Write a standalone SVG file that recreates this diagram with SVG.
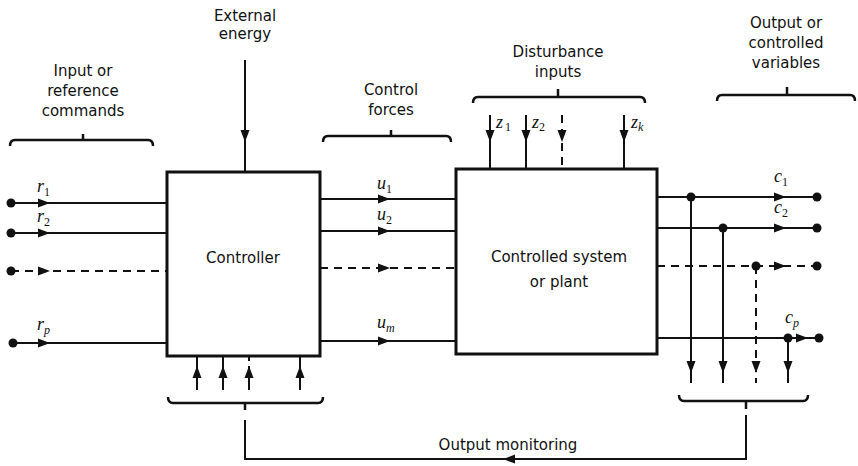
<svg xmlns="http://www.w3.org/2000/svg" width="858" height="466" viewBox="0 0 858 466">
<style>
.box{fill:#fff;stroke:#111;stroke-width:3}
.ln{fill:none;stroke:#111;stroke-width:2}
.ds{fill:none;stroke:#111;stroke-width:2;stroke-dasharray:8 6}
.br{fill:none;stroke:#111;stroke-width:2.5}
.lbl{font-family:"DejaVu Sans",sans-serif;font-size:15px;fill:#111;text-anchor:middle}
.var{font-family:"Liberation Serif",serif;font-style:italic;font-size:18px;fill:#111}
.sub{font-size:12px;font-style:normal}
.subi{font-size:12px;font-style:italic}
.dot{fill:#111}
</style>
<defs>
<path id="ah" d="M0,0 L-12,-4.5 L-12,4.5 Z" fill="#111"/>
</defs>
<rect width="858" height="466" fill="#fff"/>

<g id="labels">
<text class="lbl" x="83" y="76">Input or</text>
<text class="lbl" x="83" y="96">reference</text>
<text class="lbl" x="83" y="116">commands</text>
<text class="lbl" x="245" y="21">External</text>
<text class="lbl" x="245" y="39">energy</text>
<text class="lbl" x="391" y="95">Control</text>
<text class="lbl" x="391" y="115">forces</text>
<text class="lbl" x="558" y="57">Disturbance</text>
<text class="lbl" x="558" y="77">inputs</text>
<text class="lbl" x="786" y="28">Output or</text>
<text class="lbl" x="786" y="48">controlled</text>
<text class="lbl" x="786" y="68">variables</text>
<text class="lbl" x="508" y="450">Output monitoring</text>
</g>

<g id="braces">
<path class="br" d="M10,146 Q10,140 15,140 L148,140 Q153,140 153,146 M83,140 L83,134"/>
<path class="br" d="M323,142 Q323,136 328,136 L446,136 Q451,136 451,142 M391,136 L391,130"/>
<path class="br" d="M473,103 Q473,97 478,97 L640,97 Q645,97 645,103 M558,97 L558,89"/>
<path class="br" d="M717,101 Q717,95 722,95 L850,95 Q855,95 855,101 M787,95 L787,87"/>
<path class="br" d="M168,397 Q168,403 173,403 L318,403 Q323,403 323,397 M245,403 L245,410"/>
<path class="br" d="M679,395 Q679,401 684,401 L803,401 Q808,401 808,395 M746,401 L746,409"/>
</g>

<g id="controller">
<rect class="box" x="167" y="172" width="153" height="184"/>
<text class="lbl" x="243" y="263">Controller</text>
</g>

<g id="plant">
<rect class="box" x="456" y="169" width="201" height="185"/>
<text class="lbl" x="559" y="262">Controlled system</text>
<text class="lbl" x="559" y="287">or plant</text>
</g>

<g id="connectors">
<!-- external energy -->
<path class="ln" d="M245,60 L245,172"/>
<use href="#ah" transform="translate(245,142) rotate(90)"/>

<!-- inputs -->
<path class="ln" d="M11,203 L167,203 M11,233 L167,233 M13,343 L167,343"/>
<path class="ds" d="M11,271 L167,271"/>
<circle class="dot" cx="11" cy="203" r="4.5"/>
<circle class="dot" cx="11" cy="233" r="4.5"/>
<circle class="dot" cx="11" cy="271" r="4.5"/>
<circle class="dot" cx="13" cy="343" r="4.5"/>
<use href="#ah" transform="translate(50,203)"/>
<use href="#ah" transform="translate(50,233)"/>
<use href="#ah" transform="translate(50,271)"/>
<use href="#ah" transform="translate(50,343)"/>

<!-- control forces -->
<path class="ln" d="M320,199 L456,199 M320,231 L456,231 M320,341 L456,341"/>
<path class="ds" d="M320,268 L456,268"/>
<use href="#ah" transform="translate(390,199)"/>
<use href="#ah" transform="translate(390,231)"/>
<use href="#ah" transform="translate(390,268)"/>
<use href="#ah" transform="translate(390,341)"/>

<!-- disturbances -->
<path class="ln" d="M490,115 L490,169 M526,115 L526,169 M624,115 L624,169"/>
<path class="ds" d="M562,115 L562,169"/>
<use href="#ah" transform="translate(490,142) rotate(90)"/>
<use href="#ah" transform="translate(526,142) rotate(90)"/>
<use href="#ah" transform="translate(562,142) rotate(90)"/>
<use href="#ah" transform="translate(624,142) rotate(90)"/>

<!-- outputs -->
<path class="ln" d="M657,197 L817,197 M657,228 L817,228 M657,338 L819,338"/>
<path class="ds" d="M657,266 L817,266"/>
<use href="#ah" transform="translate(786,197)"/>
<use href="#ah" transform="translate(786,228)"/>
<use href="#ah" transform="translate(786,266)"/>
<use href="#ah" transform="translate(808,338)"/>
<circle class="dot" cx="817" cy="197" r="4.5"/>
<circle class="dot" cx="817" cy="228" r="4.5"/>
<circle class="dot" cx="817" cy="266" r="4.5"/>
<circle class="dot" cx="819" cy="338" r="4.5"/>

<!-- monitoring taps -->
<path class="ln" d="M691,197 L691,383 M723,228 L723,383 M788,338 L788,383"/>
<path class="ds" d="M756,266 L756,383"/>
<circle class="dot" cx="691" cy="197" r="4.5"/>
<circle class="dot" cx="723" cy="228" r="4.5"/>
<circle class="dot" cx="756" cy="266" r="4.5"/>
<circle class="dot" cx="788" cy="338" r="4.5"/>
<use href="#ah" transform="translate(691,373) rotate(90)"/>
<use href="#ah" transform="translate(723,373) rotate(90)"/>
<use href="#ah" transform="translate(756,373) rotate(90)"/>
<use href="#ah" transform="translate(788,373) rotate(90)"/>

<!-- feedback to controller -->
<path class="ln" d="M746,415 L746,459 L245,459 L245,420"/>
<use href="#ah" transform="translate(503,459) rotate(180)"/>
<path class="ln" d="M197,356 L197,390 M223,356 L223,390 M249,356 L249,361 M249,366 L249,390 M300,356 L300,390"/>
<use href="#ah" transform="translate(197,366) rotate(-90)"/>
<use href="#ah" transform="translate(223,366) rotate(-90)"/>
<use href="#ah" transform="translate(249,366) rotate(-90)"/>
<use href="#ah" transform="translate(300,366) rotate(-90)"/>
</g>

<g id="variables">
<text class="var" x="37" y="192">r<tspan class="sub" dy="4">1</tspan></text>
<text class="var" x="37" y="222">r<tspan class="sub" dy="4">2</tspan></text>
<text class="var" x="37" y="330">r<tspan class="subi" dy="4">p</tspan></text>
<text class="var" x="377" y="189">u<tspan class="sub" dy="4">1</tspan></text>
<text class="var" x="377" y="220">u<tspan class="sub" dy="4">2</tspan></text>
<text class="var" x="377" y="328">u<tspan class="subi" dy="4">m</tspan></text>
<text class="var" x="774" y="182">c<tspan class="sub" dy="4">1</tspan></text>
<text class="var" x="774" y="213">c<tspan class="sub" dy="4">2</tspan></text>
<text class="var" x="785" y="323">c<tspan class="subi" dy="4">p</tspan></text>
<text class="var" x="496" y="128">z<tspan class="sub" dy="3" dx="2">1</tspan></text>
<text class="var" x="532" y="128">z<tspan class="sub" dy="3">2</tspan></text>
<text class="var" x="631" y="128">z<tspan class="subi" dy="3">k</tspan></text>
</g>
</svg>
